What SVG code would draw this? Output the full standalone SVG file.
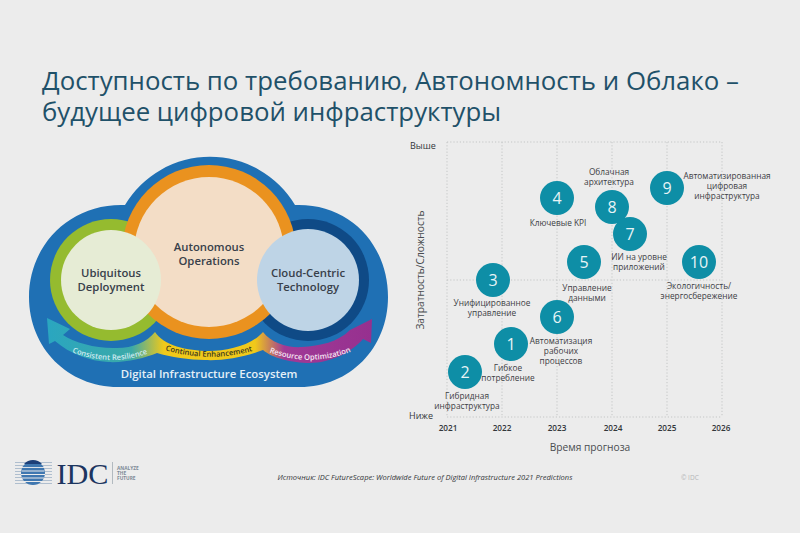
<svg xmlns="http://www.w3.org/2000/svg" xmlns:xlink="http://www.w3.org/1999/xlink" width="800" height="533" viewBox="0 0 800 533">
<style>
text{font-family:"Open Sans","Noto Sans","Liberation Sans",sans-serif}
.title{font-size:25.800px;fill:#1f5169}
.big{font-size:11.300px;font-weight:600;fill:#38404a;text-anchor:middle}
.band{font-size:7.600px;font-weight:600;text-anchor:middle}
.grid{stroke:#c4c6c6;stroke-width:1;stroke-dasharray:1.2 2;fill:none}
.dot{fill:#0e8ea6}
.num{font-size:16px;fill:#e8f4f6;text-anchor:middle}
.lab{font-size:8.300px;fill:#3d4044;text-anchor:middle}
.yr{font-size:8.200px;fill:#33373b;font-weight:600;text-anchor:middle}
.ax{font-size:9px;fill:#33373b}
.axt{font-size:10.200px;fill:#4a4d50}
</style>
<defs>
<linearGradient id="bandFill" gradientUnits="userSpaceOnUse" x1="47" y1="0" x2="372" y2="0">
<stop offset="0" stop-color="#2aa6c0"/>
<stop offset="0.26" stop-color="#3ba9a8"/>
<stop offset="0.36" stop-color="#f0c91a"/>
<stop offset="0.64" stop-color="#f0c91a"/>
<stop offset="0.73" stop-color="#a03a96"/>
<stop offset="1" stop-color="#96308f"/>
</linearGradient>
<path id="p1" d="M50 341Q110 378 170 343"/>
<path id="p2" d="M140 341Q209 372 278 342"/>
<path id="p3" d="M245 341Q310 379 375 340"/>
</defs>
<rect width="800" height="533" fill="#ececec"/>
<g id="title">
<text class="title" x="42" y="90">Доступность по требованию, Автономность и Облако –</text>
<text class="title" x="42" y="121">будущее цифровой инфраструктуры</text>
</g>
<g id="cloud">
<path fill="#1f70b4" d="M125 205A99 99 0 0 1 295 205C350 203 388 245 388 297C388 348 350 387 300 387L118 387C68 387 29 348 29 297C29 245 70 203 125 205Z"/>
</g>
<g id="ubiquitous-ring"><circle cx="111" cy="280" r="61" fill="#95bb2f"/></g>
<g id="cloud-ring"><circle cx="308" cy="280" r="61" fill="#0f4a86"/></g>
<g id="autonomous-ring"><circle cx="209" cy="252" r="87" fill="#ea921f"/></g>
<g id="autonomous"><circle cx="209" cy="252" r="75" fill="#f3ddc6"/>
<text class="big" x="209" y="251">Autonomous</text><text class="big" x="209" y="264.500">Operations</text></g>
<g id="ubiquitous"><circle cx="111" cy="280" r="50" fill="#e6ecd5"/>
<text class="big" x="111" y="277">Ubiquitous</text><text class="big" x="111" y="290.500">Deployment</text></g>
<g id="cloud-centric"><circle cx="308" cy="280" r="51" fill="#bed4e6"/>
<text class="big" x="308" y="277">Cloud-Centric</text><text class="big" x="308" y="290.500">Technology</text></g>
<g id="band">
<path fill="url(#bandFill)" d="M47 318L70 329L63 335C75 343 98 349 117 348C133 348 147 342 155 332C163 345 187 351 209 351C228 351 252 345 263 332C271 343 288 348 302 347C320 346 338 342 350 330L372 319L371 343L363 339C352 352 330 363 310 363C292 363 272 358 263 350C245 357 222 361 205 360C190 360 170 357 157 353C145 358 125 363 108 362C90 361 70 354 55 341L49 344Z"/>
<text class="band" fill="#cfeaf0"><textPath xlink:href="#p1" href="#p1" startOffset="50%">Consistent Resilience</textPath></text>
<text class="band" fill="#3d3a1e"><textPath xlink:href="#p2" href="#p2" startOffset="50%">Continual Enhancement</textPath></text>
<text class="band" fill="#f6e6f3"><textPath xlink:href="#p3" href="#p3" startOffset="50%">Resource Optimization</textPath></text>
<text x="209" y="378" text-anchor="middle" font-size="11.400" font-weight="600" fill="#e4eff7">Digital Infrastructure Ecosystem</text>
</g>
<g id="chart-grid">
<path class="grid" d="M447 142H722M447 280H722M447 417H722M447 142V417M502 142V417M557 142V417M612 142V417M667 142V417M722 142V417"/>
<text class="ax" x="410" y="149">Выше</text>
<text class="ax" x="409" y="419">Ниже</text>
<text class="yr" x="448" y="431">2021</text><text class="yr" x="502" y="431">2022</text><text class="yr" x="557" y="431">2023</text><text class="yr" x="613" y="431">2024</text><text class="yr" x="667" y="431">2025</text><text class="yr" x="721" y="431">2026</text>
<text class="axt" x="590" y="451" text-anchor="middle">Время прогноза</text>
<text class="axt" text-anchor="middle" transform="translate(424 270) rotate(-90)">Затратность/Сложность</text>
</g>
<g id="n4"><circle class="dot" cx="557" cy="198" r="17"/><text class="num" x="557" y="204">4</text><text class="lab" x="558" y="226">Ключевые KPI</text></g>
<g id="n8"><circle class="dot" cx="612" cy="207" r="17"/><text class="num" x="612" y="213">8</text><text class="lab" x="609" y="175">Облачная</text><text class="lab" x="609" y="185">архитектура</text></g>
<g id="n7"><circle class="dot" cx="630" cy="234" r="17"/><text class="num" x="630" y="240">7</text><text class="lab" x="639" y="260">ИИ на уровне</text><text class="lab" x="639" y="270">приложений</text></g>
<g id="n9"><circle class="dot" cx="667" cy="188" r="17"/><text class="num" x="667" y="194">9</text><text class="lab" x="727" y="179">Автоматизированная</text><text class="lab" x="727" y="189">цифровая</text><text class="lab" x="727" y="199">инфраструктура</text></g>
<g id="n5"><circle class="dot" cx="584" cy="262" r="17"/><text class="num" x="584" y="268">5</text><text class="lab" x="587" y="291">Управление</text><text class="lab" x="587" y="301">данными</text></g>
<g id="n10"><circle class="dot" cx="699" cy="262" r="17"/><text class="num" x="699" y="268">10</text><text class="lab" x="699" y="289">Экологичность/</text><text class="lab" x="699" y="299">энергосбережение</text></g>
<g id="n3"><circle class="dot" cx="493" cy="280" r="17"/><text class="num" x="493" y="286">3</text><text class="lab" x="492" y="306">Унифицированное</text><text class="lab" x="492" y="316">управление</text></g>
<g id="n6"><circle class="dot" cx="557" cy="317" r="17"/><text class="num" x="557" y="323">6</text><text class="lab" x="561" y="344">Автоматизация</text><text class="lab" x="561" y="354">рабочих</text><text class="lab" x="561" y="364">процессов</text></g>
<g id="n1"><circle class="dot" cx="511" cy="344" r="17"/><text class="num" x="511" y="350">1</text><text class="lab" x="508" y="371">Гибкое</text><text class="lab" x="508" y="381">потребление</text></g>
<g id="n2"><circle class="dot" cx="465" cy="372" r="17"/><text class="num" x="465" y="378">2</text><text class="lab" x="467" y="399">Гибридная</text><text class="lab" x="467" y="409">инфраструктура</text></g>
<g id="logo">
<path d="M15 462.500H52M15 465.500H52M15 468.500H52M15 471.500H52M15 474.500H52M15 477.500H52M15 480.500H52M15 483.500H52" stroke="#9fb2c6" stroke-width="0.800"/>
<circle cx="33" cy="473" r="12" fill="#3f77b0"/>
<path d="M22 467.500H44" stroke="#ececec" stroke-width="0.900"/><path d="M21.500 471H44.500M21 474.500H45M22 478H44M24 481.500H42" stroke="#ececec" stroke-width="1.100"/>
<path d="M24 464a12 12 0 0 1 18 0z" fill="#1c3f78"/>
<text x="56.500" y="484" font-size="30" style="font-family:'Liberation Serif',serif" fill="#1c3560" textLength="52" lengthAdjust="spacingAndGlyphs">IDC</text>
<path d="M112.500 462V484" stroke="#9aa5ae" stroke-width="0.700"/>
<text x="117" y="470" font-size="4.800" font-weight="700" fill="#7c8a96">ANALYZE</text><text x="117" y="475" font-size="4.800" font-weight="700" fill="#7c8a96">THE</text><text x="117" y="480" font-size="4.800" font-weight="700" fill="#7c8a96">FUTURE</text>
</g>
<g id="source">
<text x="425" y="480" text-anchor="middle" font-size="7.550" font-style="italic" fill="#35383b">Источник: IDC FutureScape: Worldwide Future of Digital Infrastructure 2021 Predictions</text>
<text x="681" y="480" font-size="6.500" fill="#b4b6b8">© IDC</text>
</g>
</svg>
